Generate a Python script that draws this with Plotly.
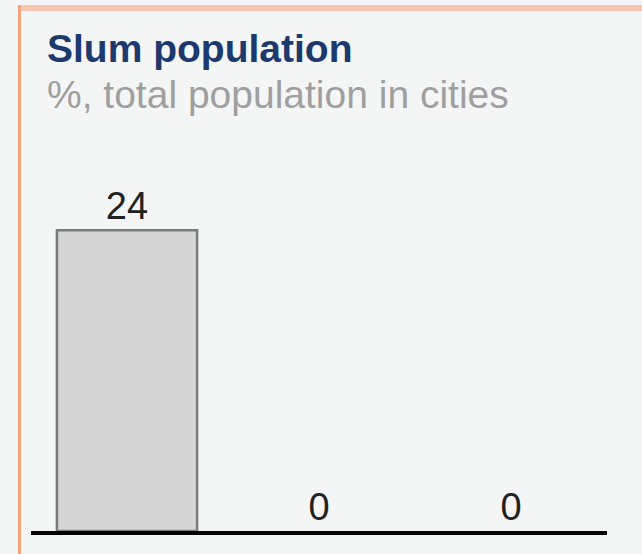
import plotly.graph_objects as go

categories = ["A", "B", "C"]
values = [24, 0, 0]
title_text = "Slum population"
subtitle_text = "%, total population in cities"

W, H = 642, 554
ML, MR, MT, MB = 31, 35, 130, 23
PW, PH = W - ML - MR, H - MT - MB


def px(x):
    return (x - ML) / PW


def py(y):
    return (H - MB - y) / PH


fig = go.Figure()
fig.add_trace(go.Bar(
    x=categories, y=values,
    marker=dict(color="#d5d5d5",
                line=dict(color="#7a7a7a", width=[2.5 if v else 0 for v in values])),
    text=[str(v) for v in values], textposition="outside",
    textfont=dict(family="Liberation Sans", size=38, color="#222222"),
    cliponaxis=False, width=0.73,
))

bg = "#f4f6f6"
fig.update_layout(
    width=W, height=H, margin=dict(l=ML, r=MR, t=MT, b=MB),
    paper_bgcolor=bg, plot_bgcolor=bg, showlegend=False,
    xaxis=dict(showticklabels=False, showgrid=False, zeroline=False,
               showline=True, linecolor="#000000", linewidth=4, ticks=""),
    yaxis=dict(range=[0, 32], visible=False, showgrid=False, zeroline=False),
    annotations=[
        dict(text="<b>" + title_text + "</b>", xref="paper", yref="paper",
             x=px(45), y=py(25), xanchor="left", yanchor="top", showarrow=False,
             font=dict(family="Liberation Sans", size=39, color="#1c3a6e")),
        dict(text=subtitle_text, xref="paper", yref="paper",
             x=px(45), y=py(71), xanchor="left", yanchor="top", showarrow=False,
             font=dict(family="Liberation Sans", size=39, color="#9f9f9f")),
    ],
    shapes=[
        dict(type="rect", xref="paper", yref="paper", x0=px(18), x1=px(W + 5),
             y0=py(11), y1=py(5), fillcolor="#f8c6b0", line=dict(width=0), layer="below"),
        dict(type="rect", xref="paper", yref="paper", x0=px(18), x1=px(21),
             y0=py(H + 5), y1=py(5), fillcolor="#f6a47f", line=dict(width=0), layer="below"),
    ],
)

fig.write_html(
    "out.html",
    config={"displayModeBar": False},
    post_script="document.body.style.margin='0';document.body.style.background='#f4f6f6';",
)
